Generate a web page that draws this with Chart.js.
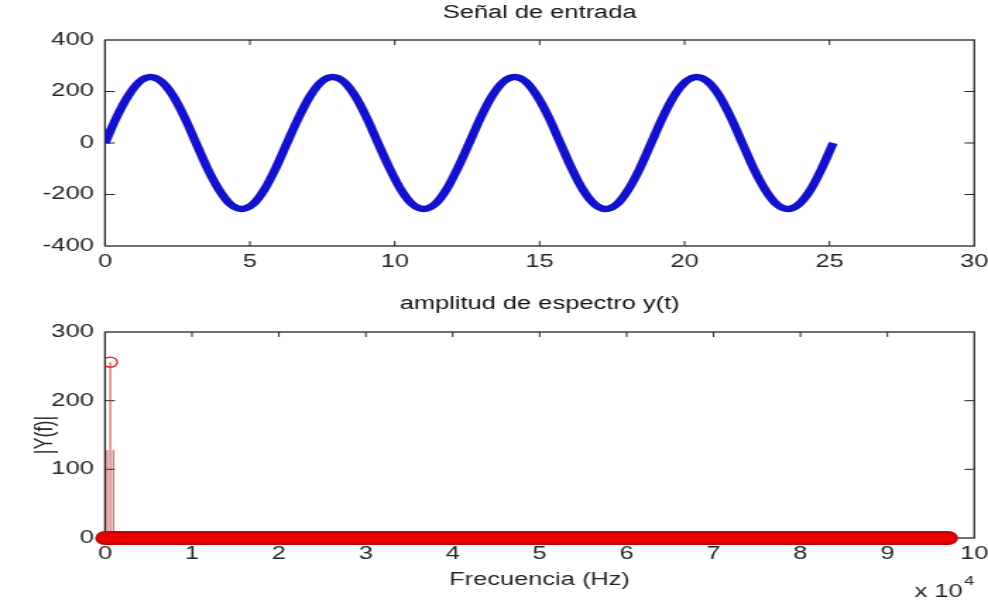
<!DOCTYPE html>
<html>
<head>
<meta charset="utf-8">
<script src="https://cdn.jsdelivr.net/npm/chart.js@4.4.1/dist/chart.umd.min.js"></script>
<style>
  html, body { margin: 0; padding: 0; background: #fff; }
  #wrap { position: relative; width: 988px; height: 600px; overflow: hidden; }
  /* drawn at 700 px wide and stretched, like the old figure export */
  #signal { position: absolute; left: 0; top: 0; width: 988px; height: 280px; }
  #spectrum { position: absolute; left: 0; top: 280px; width: 988px; height: 320px; }
</style>
</head>
<body>
<div id="wrap">
  <canvas id="signal" width="700" height="280" style="width:988px;height:280px"></canvas>
  <canvas id="spectrum" width="700" height="320" style="width:988px;height:320px"></canvas>
</div>
<script>
// input signal, time samples and amplitude
const sigT = [0.00, 0.39, 0.79, 1.18, 1.57, 1.96, 2.36, 2.75, 3.14, 3.53, 3.93, 4.32, 4.71, 5.11, 5.50, 5.89,
  6.28, 6.68, 7.07, 7.46, 7.85, 8.25, 8.64, 9.03, 9.42, 9.82, 10.21, 10.60, 11.00, 11.39, 11.78, 12.17,
  12.57, 12.96, 13.35, 13.74, 14.14, 14.53, 14.92, 15.32, 15.71, 16.10, 16.49, 16.89, 17.28, 17.67, 18.06, 18.46,
  18.85, 19.24, 19.63, 20.03, 20.42, 20.81, 21.21, 21.60, 21.99, 22.38, 22.78, 23.17, 23.56, 23.95, 24.35, 24.74,
  25.13];
const sigY = [0, 98, 181, 237, 256, 237, 181, 98, 0, -98, -181, -237, -256, -237, -181, -98,
  0, 98, 181, 237, 256, 237, 181, 98, 0, -98, -181, -237, -256, -237, -181, -98,
  0, 98, 181, 237, 256, 237, 181, 98, 0, -98, -181, -237, -256, -237, -181, -98,
  0, 98, 181, 237, 256, 237, 181, 98, 0, -98, -181, -237, -256, -237, -181, -98,
  0];

// spectrum: the flat zero bins and the peak around the signal frequency
const zeroFreq = [0, 97000];
const zeroMag = [0, 0];
const peakFreq = [250, 600, 950];
const peakMag = [128, 256, 128];

const sigXTicks = [0, 5, 10, 15, 20, 25, 30];
const sigYTicks = [-400, -200, 0, 200, 400];
const specXTicks = [0, 1, 2, 3, 4, 5, 6, 7, 8, 9, 10];
const specYTicks = [0, 100, 200, 300];

const FONT = '"Liberation Sans", Arial, sans-serif';
const INK = '#262626';

// matlab style box with inward ticks on all four sides
const boxAxes = {
  id: 'boxAxes',
  beforeDatasetsDraw(chart, args, opts) {
    const { ctx, chartArea: a, scales } = chart;
    ctx.save();
    ctx.strokeStyle = INK;
    ctx.lineWidth = 1;
    ctx.beginPath();
    scales.x.ticks.forEach(t => {
      const px = scales.x.getPixelForValue(t.value);
      if (px <= a.left + 1 || px >= a.right - 1) return;
      ctx.moveTo(px, a.bottom); ctx.lineTo(px, a.bottom - opts.xLen);
      ctx.moveTo(px, a.top); ctx.lineTo(px, a.top + opts.xLen);
    });
    scales.y.ticks.forEach(t => {
      const py = scales.y.getPixelForValue(t.value);
      if (py <= a.top + 1 || py >= a.bottom - 1) return;
      ctx.moveTo(a.left, py); ctx.lineTo(a.left + opts.yLen, py);
      ctx.moveTo(a.right, py); ctx.lineTo(a.right - opts.yLen, py);
    });
    ctx.stroke();
    ctx.lineWidth = 1.3;
    ctx.strokeRect(a.left, a.top, a.right - a.left, a.bottom - a.top);
    ctx.restore();
  }
};

// exponent note under the frequency axis
const expNote = {
  id: 'expNote',
  afterDraw(chart) {
    const ctx = chart.ctx;
    ctx.save();
    ctx.fillStyle = INK;
    ctx.textBaseline = 'alphabetic';
    ctx.font = '18px ' + FONT;
    ctx.fillText('x 10', 648, 317);
    const w = ctx.measureText('x 10').width;
    ctx.font = '13px ' + FONT;
    ctx.fillText('4', 648 + w + 1, 305);
    ctx.restore();
  }
};

function linScale(min, max, ticks, size, pad, extra) {
  return Object.assign({
    type: 'linear',
    min: min,
    max: max,
    grid: { display: false, drawTicks: false },
    border: { display: false },
    afterBuildTicks: s => { s.ticks = ticks.map(v => ({ value: v })); },
    afterFit: s => {
      if (s.isHorizontal()) {
        s.height = size;
        s.paddingLeft = 0;
        s.paddingRight = 0;
      } else {
        s.width = size;
        s.paddingTop = 0;
        s.paddingBottom = 0;
      }
    },
    ticks: { font: { family: FONT, size: 18 }, color: INK, padding: pad }
  }, extra || {});
}

new Chart(document.getElementById('signal'), {
  type: 'scatter',
  data: {
    datasets: [{
      data: sigT.map((t, i) => ({ x: t, y: sigY[i] })),
      showLine: true,
      borderColor: '#1212cc',
      borderWidth: 6.5,
      cubicInterpolationMode: 'monotone',
      pointRadius: 0
    }]
  },
  options: {
    responsive: false,
    devicePixelRatio: 1,
    animation: false,
    layout: { padding: { left: 0, right: 9.7, top: 0, bottom: 0 } },
    plugins: {
      legend: { display: false },
      tooltip: { enabled: false },
      title: {
        display: true,
        text: 'Señal de entrada',
        fullSize: false,
        color: '#111',
        font: { family: FONT, size: 18, weight: 'normal' },
        padding: { top: 2, bottom: 16.4 }
      },
      boxAxes: { xLen: 5, yLen: 7 }
    },
    scales: {
      x: linScale(0, 30, sigXTicks, 34, 5),
      y: linScale(-400, 400, sigYTicks, 74.4, 8)
    }
  },
  plugins: [boxAxes]
});

const stemSets = peakFreq.map((f, i) => ({
  data: [{ x: f, y: 0 }, { x: f, y: peakMag[i] }],
  showLine: true,
  borderColor: 'rgba(185,40,40,0.85)',
  borderWidth: 1,
  pointRadius: [0, peakMag[i] === Math.max(...peakMag) ? 5 : 0],
  pointBorderColor: '#d01414',
  pointBackgroundColor: 'rgba(0,0,0,0)',
  pointBorderWidth: 1.2,
  order: 3
}));

new Chart(document.getElementById('spectrum'), {
  type: 'scatter',
  data: {
    datasets: [
      {
        data: zeroFreq.map((f, i) => ({ x: f, y: zeroMag[i] })),
        showLine: true,
        borderColor: '#c00808',
        borderWidth: 14,
        borderCapStyle: 'round',
        pointRadius: 0,
        clip: false,
        order: 2
      },
      {
        data: zeroFreq.map((f, i) => ({ x: f, y: zeroMag[i] })),
        showLine: true,
        borderColor: '#ee0000',
        borderWidth: 9,
        borderCapStyle: 'round',
        pointRadius: 0,
        clip: false,
        order: 1
      },
      ...stemSets
    ]
  },
  options: {
    responsive: false,
    devicePixelRatio: 1,
    animation: false,
    layout: { padding: { left: 0, right: 9.7, top: 0, bottom: 0 } },
    plugins: {
      legend: { display: false },
      tooltip: { enabled: false },
      title: {
        display: true,
        text: 'amplitud de espectro y(t)',
        fullSize: false,
        color: '#111',
        font: { family: FONT, size: 18, weight: 'normal' },
        padding: { top: 13.2, bottom: 17.2 }
      },
      boxAxes: { xLen: 5, yLen: 7 }
    },
    scales: {
      x: linScale(0, 100000, specXTicks.map(v => v * 10000), 62, 5, {
        title: {
          display: true,
          text: 'Frecuencia (Hz)',
          color: INK,
          font: { family: FONT, size: 18 },
          padding: { top: 0, bottom: 9.2 }
        }
      }),
      y: linScale(0, 300, specYTicks, 74.4, 8, {
        title: {
          display: true,
          text: '|Y(f)|',
          color: INK,
          font: { family: FONT, size: 18 },
          padding: { top: 21, bottom: 0 }
        }
      })
    }
  },
  plugins: [boxAxes, expNote]
});

// frequency ticks read in units of 10^4
Chart.getChart('spectrum').options.scales.x.ticks.callback = v => v / 10000;
Chart.getChart('spectrum').update('none');
</script>
</body>
</html>
